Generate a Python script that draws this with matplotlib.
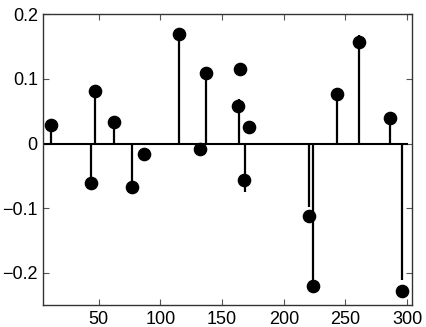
import matplotlib
matplotlib.use("Agg")
from matplotlib import pyplot as plt

# true spikes (stems)
stem_x = [11, 44, 47, 62, 77, 115, 136.5, 163.5, 168.3, 220.2, 223.4, 243.2, 261.3, 286.1, 295.9]
stem_y = [0.028, -0.061, 0.082, 0.034, -0.068, 0.169, 0.109, 0.069, -0.075, -0.098, -0.220,
          0.077, 0.168, 0.039, -0.211]

# estimated spikes (dots)
dot_x = [11, 44, 47, 62, 77, 86.5, 115, 132.4, 136.5, 162.7, 164.3, 168.0, 172.1, 220.2,
         223.4, 243.2, 261.3, 286.1, 295.9]
dot_y = [0.028, -0.061, 0.082, 0.034, -0.068, -0.016, 0.169, -0.008, 0.109, 0.058, 0.115,
         -0.057, 0.026, -0.112, -0.220, 0.077, 0.157, 0.039, -0.228]

x_ticks = [50, 100, 150, 200, 250, 300]
y_ticks = [-0.2, -0.1, 0, 0.1, 0.2]
y_labels = ["\u22120.2", "\u22120.1", "0", "0.1", "0.2"]

plt.rcParams["font.family"] = ["Liberation Sans", "DejaVu Sans"]

fig = plt.figure(figsize=(4.27, 3.27), dpi=100)
ax = fig.add_axes([0.1015, 0.0673, 0.8635, 0.8887])

ax.plot([5, 300], [0, 0], color="black", linewidth=1.5, zorder=2)
ax.vlines(stem_x, 0, stem_y, colors="black", linewidth=1.6, zorder=2)
ax.plot(dot_x, dot_y, "o", color="black", markersize=8.8, zorder=3)

ax.set_xlim(5, 304)
ax.set_ylim(-0.25, 0.2)
ax.set_xticks(x_ticks)
ax.set_yticks(y_ticks)
ax.set_yticklabels(y_labels)
ax.tick_params(direction="in", length=4, width=0.8, color="#555555",
               labelsize=13, top=True, right=True, pad=4)
for s in ax.spines.values():
    s.set_color("#333333")
    s.set_linewidth(1.0)

fig.savefig("out.png", dpi=100)
